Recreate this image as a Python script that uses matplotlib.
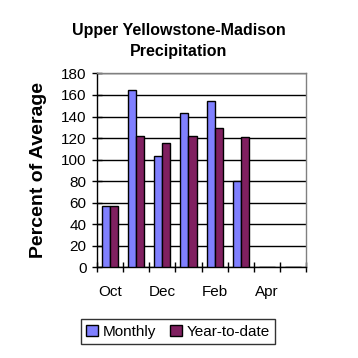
import numpy as np
import matplotlib
matplotlib.use("Agg")
import matplotlib.pyplot as plt

# data
months = ["Oct", "Nov", "Dec", "Jan", "Feb", "Mar", "Apr", "May"]
monthly = [57, 165, 103, 143, 154, 80, None, None]
year_to_date = [57, 122, 115, 122, 129, 121, None, None]
tick_labels = ["Oct", "", "Dec", "", "Feb", "", "Apr", ""]

plt.rcParams['font.family'] = ['Liberation Sans', 'DejaVu Sans']

fig = plt.figure(figsize=(3.58, 3.58), dpi=100)
ax = fig.add_axes([0.271, 0.253, 0.584, 0.542])

x = np.arange(len(months))
w = 0.31
m_vals = [v if v is not None else 0 for v in monthly]
y_vals = [v if v is not None else 0 for v in year_to_date]
ax.bar(x - w / 2, m_vals, w, color="#8080FF", edgecolor="black", linewidth=1, label="Monthly", zorder=3)
ax.bar(x + w / 2, y_vals, w, color="#802060", edgecolor="black", linewidth=1, label="Year-to-date", zorder=3)

ax.set_xlim(-0.5, len(months) - 0.5)
ax.set_ylim(0, 180)
ax.set_yticks(range(0, 181, 20))
ax.yaxis.grid(True, color="black", linewidth=1, zorder=0)
ax.tick_params(axis="y", labelsize=11, length=7, width=1, direction="inout", pad=4)

ax.set_xticks(x)
ax.set_xticklabels(tick_labels, fontsize=11)
ax.set_xticks(np.arange(-0.5, len(months), 1), minor=True)
ax.tick_params(axis="x", which="major", length=0, pad=13)
ax.tick_params(axis="x", which="minor", length=7, width=1, direction="inout")

for s in ["left", "bottom"]:
    ax.spines[s].set_color("black")
    ax.spines[s].set_linewidth(1)
for s in ["top", "right"]:
    ax.spines[s].set_color("gray")
    ax.spines[s].set_linewidth(1)

ax.set_ylabel("Percent of Average", fontsize=14, fontweight="bold", labelpad=10)
fig.text(0.5, 0.885, "Upper Yellowstone-Madison\nPrecipitation", ha="center", va="center",
         fontsize=11.5, fontweight="bold", linespacing=1.5)

leg = fig.legend(loc="center", bbox_to_anchor=(0.497, 0.073), ncol=2, fontsize=11,
                 frameon=True, fancybox=False, edgecolor="black", handlelength=0.8,
                 handleheight=0.8, handletextpad=0.3, columnspacing=0.9, borderpad=0.35)
leg.get_frame().set_linewidth(1)

fig.savefig("out.png", dpi=100)
